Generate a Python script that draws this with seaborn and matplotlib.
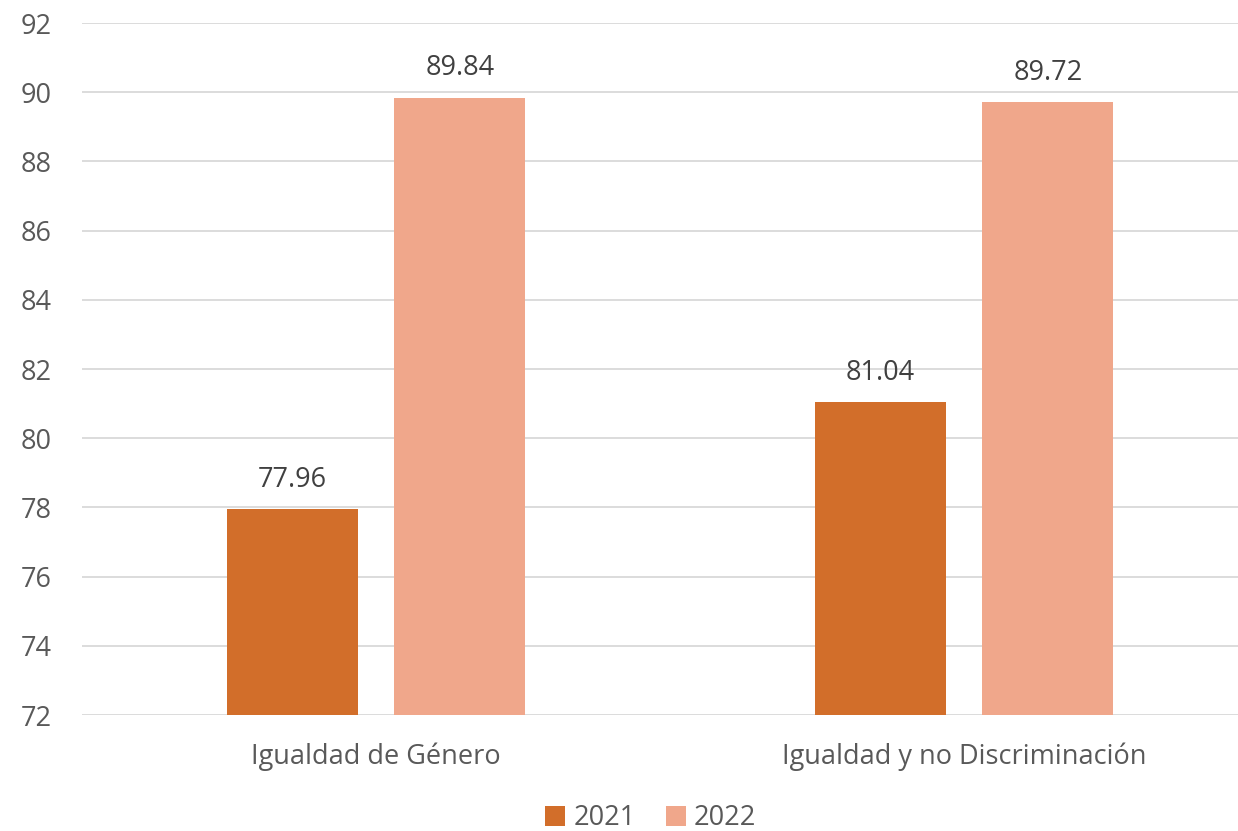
import matplotlib
matplotlib.use("Agg")
import matplotlib.pyplot as plt
import seaborn as sns
import pandas as pd

categories = ["Igualdad de Género", "Igualdad y no Discriminación"]
years = ["2021", "2022"]
values_2021 = [77.96, 81.04]
values_2022 = [89.84, 89.72]

colors = {"2021": "#D26E2A", "2022": "#F0A78B"}

df = pd.DataFrame({
    "categoria": categories * 2,
    "anio": [years[0]] * 2 + [years[1]] * 2,
    "valor": values_2021 + values_2022,
})

sns.set_theme(style="white")
plt.rcParams["font.family"] = ["Open Sans", "DejaVu Sans"]

fig = plt.figure(figsize=(12.38, 8.31), dpi=100)
fig.patch.set_facecolor("white")
ax = fig.add_axes([82 / 1238, 1 - 715 / 831, 1 - 82 / 1238, (715 - 23) / 831])
ax.set_facecolor("white")

sns.barplot(data=df, x="categoria", y="valor", hue="anio", palette=colors,
            width=0.57, gap=0.218, ax=ax, saturation=1, legend=True,
            edgecolor="none")

ax.set_ylim(72, 92)
ax.set_yticks(range(72, 93, 2))
ax.set_xlim(-0.5, 1 + (1238 - 964) / 588)
ax.yaxis.grid(True, color="#D9D9D9", linewidth=1.3)
ax.set_axisbelow(True)
for s in ax.spines.values():
    s.set_visible(False)
ax.set_xlabel("")
ax.set_ylabel("")
ax.tick_params(axis="y", labelsize=19.5, colors="#595959", length=0, pad=22)
ax.tick_params(axis="x", labelsize=19.5, colors="#595959", length=0, pad=20)

for cont in ax.containers:
    ax.bar_label(cont, fmt="%.2f", padding=11, fontsize=19.5, color="#404040")

leg = ax.legend(loc="upper center", bbox_to_anchor=(0.492, -0.113), ncol=2,
                frameon=False, fontsize=19.5, handlelength=0.75, handleheight=0.75,
                handletextpad=0.3, columnspacing=1.1, borderaxespad=0)
for t in leg.get_texts():
    t.set_color("#595959")

fig.savefig("out.png", dpi=100, facecolor="white")
